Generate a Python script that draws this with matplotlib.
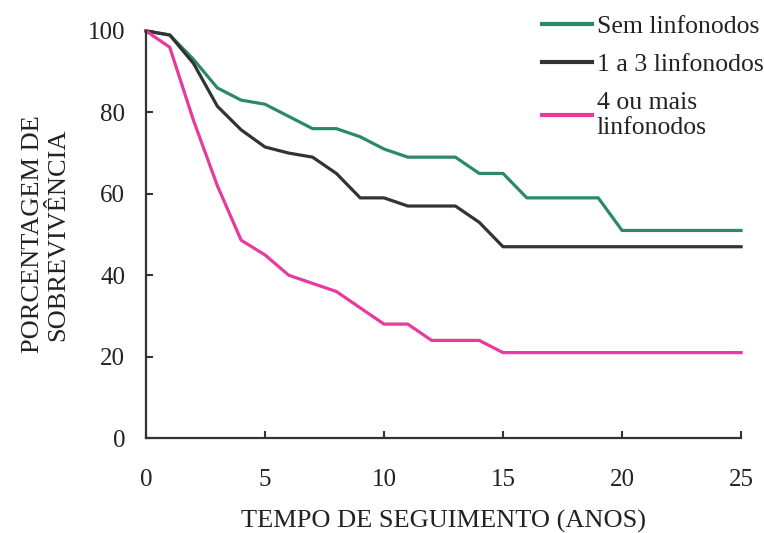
import matplotlib
matplotlib.use('Agg')
import matplotlib.pyplot as plt

# Survival curves (years, % survival)
sem_x = [0, 1, 2, 3, 4, 5, 6, 7, 8, 9, 10, 11, 13, 14, 15, 16, 19, 20, 25]
sem_y = [100, 99, 93, 86, 83, 82, 79, 76, 76, 74, 71, 69, 69, 65, 65, 59, 59, 51, 51]

um_tres_x = [0, 1, 2, 3, 4, 5, 6, 7, 8, 9, 10, 11, 13, 14, 15, 25]
um_tres_y = [100, 99, 92, 81.5, 75.7, 71.5, 70, 69, 65, 59, 59, 57, 57, 53, 47, 47]

quatro_x = [0, 1, 2, 3, 4, 5, 6, 7, 8, 9, 10, 11, 12, 14, 15, 25]
quatro_y = [100, 96, 78, 62, 48.6, 45, 40, 38, 36, 32, 28, 28, 24, 24, 21, 21]

labels = ['Sem linfonodos', '1 a 3 linfonodos', '4 ou mais\nlinfonodos']
colors = ['#2a8a66', '#333333', '#e8399e']

x_ticks = [0, 5, 10, 15, 20, 25]
y_ticks = [0, 20, 40, 60, 80, 100]

plt.rcParams['font.family'] = ['Liberation Serif', 'DejaVu Serif']

fig = plt.figure(figsize=(7.64, 5.33), dpi=100)
ax = fig.add_axes([0.191, 0.178, 0.779, 0.764])

series = [(sem_x, sem_y), (um_tres_x, um_tres_y), (quatro_x, quatro_y)]
for (xs, ys), lab, col in zip(series, labels, colors):
    ax.plot(xs, ys, color=col, linewidth=2.3, label=lab, clip_on=False,
            solid_joinstyle='round')

ax.set_xlim(0, 25)
ax.set_ylim(0, 100)
ax.set_xticks(x_ticks)
ax.set_yticks(y_ticks)
ax.tick_params(direction='in', length=5, width=1.5, color='#333333',
               labelsize=18, labelcolor='#222222')
ax.tick_params(axis='x', pad=22)
ax.tick_params(axis='y', pad=15)

for side in ['top', 'right']:
    ax.spines[side].set_visible(False)
for side in ['left', 'bottom']:
    ax.spines[side].set_linewidth(1.6)
    ax.spines[side].set_color('#333333')

ax.set_xlabel('TEMPO DE SEGUIMENTO (ANOS)', fontsize=19, labelpad=14,
              color='#222222')
ax.set_ylabel('PORCENTAGEM DE\nSOBREVIVÊNCIA', fontsize=19, labelpad=13,
              linespacing=1.2, color='#222222')

leg = fig.legend(loc='upper left', bbox_to_anchor=(0.709, 0.972),
                 bbox_transform=fig.transFigure, frameon=False,
                 fontsize=18.5, handlelength=1.95, handletextpad=0.2,
                 labelspacing=0.6, borderpad=0, borderaxespad=0)
for line in leg.get_lines():
    line.set_linewidth(3)
for t in leg.get_texts():
    t.set_color('#222222')
    t.set_linespacing(1.2)

fig.savefig('out.png', dpi=100)
